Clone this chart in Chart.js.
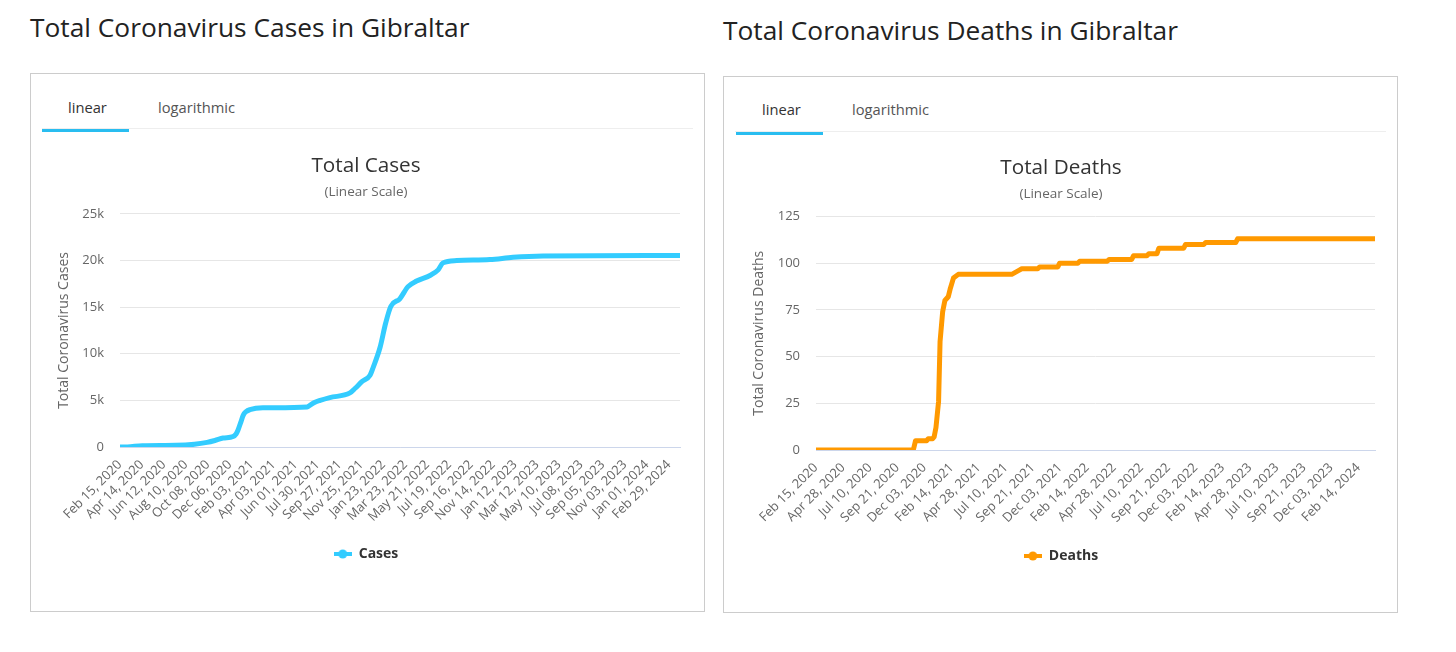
<!DOCTYPE html>
<html>
<head>
<meta charset="utf-8">
<script src="https://cdn.jsdelivr.net/npm/chart.js@4.4.1/dist/chart.umd.min.js"></script>
<style>
  html, body { margin: 0; padding: 0; background: #fff; }
  body { width: 1456px; height: 652px; position: relative; overflow: hidden; font-family: "Open Sans", sans-serif; }
  .ptitle { position: absolute; margin: 0; font-weight: 400; font-size: 26.3px; line-height: 32px; color: #222; white-space: nowrap; }
  .box { position: absolute; border: 1px solid #ccc; box-sizing: border-box; background: #fff; }
  .tab { position: absolute; font-size: 14.7px; line-height: 20px; color: #333; }
  .tab.off { color: #555; }
  .divider { position: absolute; left: 11px; right: 11px; top: 54px; height: 1px; background: #eee; }
  .underline { position: absolute; left: 11px; top: 55px; width: 87px; height: 3px; background: #29bdf0; }
  .cv { position: absolute; }
</style>
</head>
<body>
  <h2 class="ptitle" style="left:30px; top:11px;">Total Coronavirus Cases in Gibraltar</h2>
  <div class="box" style="left:30px; top:73px; width:675px; height:539px;">
    <div class="tab" style="left:37px; top:23px;">linear</div>
    <div class="tab off" style="left:127px; top:23px;">logarithmic</div>
    <div class="divider"></div>
    <div class="underline"></div>
  </div>
  <canvas id="casesChart" class="cv" width="651" height="470" style="left:41px; top:140px;"></canvas>

  <h2 class="ptitle" style="left:723px; top:14px;">Total Coronavirus Deaths in Gibraltar</h2>
  <div class="box" style="left:723px; top:76px; width:675px; height:537px;">
    <div class="tab" style="left:38px; top:22px;">linear</div>
    <div class="tab off" style="left:128px; top:22px;">logarithmic</div>
    <div class="divider"></div>
    <div class="underline" style="left:12px;"></div>
  </div>
  <canvas id="deathsChart" class="cv" width="651" height="470" style="left:735px; top:142px;"></canvas>

<script>
// ---------- data ----------
const caseTickLabels = ["Feb 15, 2020","Apr 14, 2020","Jun 12, 2020","Aug 10, 2020","Oct 08, 2020","Dec 06, 2020",
  "Feb 03, 2021","Apr 03, 2021","Jun 01, 2021","Jul 30, 2021","Sep 27, 2021","Nov 25, 2021",
  "Jan 23, 2022","Mar 23, 2022","May 21, 2022","Jul 19, 2022","Sep 16, 2022","Nov 14, 2022",
  "Jan 12, 2023","Mar 12, 2023","May 10, 2023","Jul 08, 2023","Sep 05, 2023","Nov 03, 2023",
  "Jan 01, 2024","Feb 29, 2024"];
const caseTickStepDays = 59;

const deathTickLabels = ["Feb 15, 2020","Apr 28, 2020","Jul 10, 2020","Sep 21, 2020","Dec 03, 2020",
  "Feb 14, 2021","Apr 28, 2021","Jul 10, 2021","Sep 21, 2021","Dec 03, 2021",
  "Feb 14, 2022","Apr 28, 2022","Jul 10, 2022","Sep 21, 2022","Dec 03, 2022",
  "Feb 14, 2023","Apr 28, 2023","Jul 10, 2023","Sep 21, 2023","Dec 03, 2023",
  "Feb 14, 2024"];
const deathTickStepDays = 73;

const lastDay = 1505; // days after Feb 15, 2020

// days since Feb 15, 2020 -> total cases
const caseDays   = [0, 20, 60, 150, 200, 234, 255, 277, 304, 312, 317, 325, 331, 339, 349, 384, 503, 511, 524, 538, 564, 618, 632, 650, 672, 681, 699, 714, 728, 752, 774, 797, 833, 855, 868, 905, 994, 1056, 1137, 1505];
const caseValues = [0, 10, 140, 180, 300, 500, 700, 960, 1130, 1400, 1800, 2700, 3400, 3800, 4000, 4200, 4300, 4500, 4800, 5000, 5300, 5800, 6300, 7000, 7700, 8600, 10700, 13300, 15100, 15900, 17200, 17800, 18400, 19000, 19750, 20000, 20100, 20350, 20500, 20550];

// days since Feb 15, 2020 -> total deaths
const deathDays   = [0, 262, 268, 298, 302, 314, 318, 323, 330, 334, 341, 347, 356, 361, 370, 383, 527, 545, 554, 597, 602, 651, 656, 705, 710, 784, 789, 850, 855, 891, 896, 918, 923, 990, 995, 1044, 1049, 1130, 1135, 1505];
const deathValues = [0, 0, 5, 5, 6, 6, 7, 12, 26, 58, 74, 80, 82, 86, 92, 94, 94, 96, 97, 97, 98, 98, 100, 100, 101, 101, 102, 102, 104, 104, 105, 105, 108, 108, 110, 110, 111, 111, 113, 113];

const caseYTicks = { max: 25000, step: 5000 };
const deathYTicks = { max: 125, step: 25 };

// ---------- rendering ----------
Chart.defaults.font.family = "'Open Sans', sans-serif";
Chart.defaults.animation = false;

function legendIcon(color) {
  const c = document.createElement('canvas');
  c.width = 18; c.height = 10;
  const g = c.getContext('2d');
  g.strokeStyle = color; g.lineWidth = 4; g.lineCap = 'butt';
  g.beginPath(); g.moveTo(0, 5); g.lineTo(18, 5); g.stroke();
  g.fillStyle = color;
  g.beginPath(); g.arc(9, 5, 4.5, 0, Math.PI * 2); g.fill();
  return c;
}

function makeChart(id, o) {
  const pts = o.days.map((d, i) => ({ x: d, y: o.values[i] }));
  new Chart(document.getElementById(id), {
    type: 'line',
    data: {
      datasets: [{
        label: o.label,
        data: pts,
        borderColor: o.color,
        backgroundColor: o.color,
        borderWidth: 5,
        pointRadius: 0,
        borderJoinStyle: 'round',
        borderCapStyle: 'round',
        cubicInterpolationMode: o.smooth ? 'monotone' : 'default',
        tension: 0,
        fill: false
      }]
    },
    options: {
      responsive: false,
      animation: false,
      layout: { padding: { left: o.padLeft, right: o.padRight, top: 0, bottom: o.padBottom } },
      plugins: {
        title: { display: true, text: o.title, color: '#333', font: { size: 20.7, weight: 'normal' }, padding: { top: 14, bottom: 2 } },
        subtitle: { display: true, text: '(Linear Scale)', color: '#666', font: { size: 13.5 }, padding: { top: 3.5, bottom: o.subBottom } },
        legend: {
          position: 'bottom',
          labels: {
            usePointStyle: true,
            pointStyle: legendIcon(o.color),
            pointStyleWidth: 18,
            color: '#333',
            font: { size: 14, weight: 'bold' },
            padding: o.legendPad
          }
        },
        tooltip: { enabled: false }
      },
      scales: {
        x: {
          type: 'linear',
          min: 0,
          max: lastDay,
          afterBuildTicks: (scale) => { scale.ticks = o.tickLabels.map((_, i) => ({ value: i * o.tickStep })); },
          afterFit: (scale) => { scale.height = 75; },
          grid: { display: false, drawTicks: false },
          border: { display: true, color: '#ccd6eb', width: 1 },
          ticks: {
            autoSkip: false,
            minRotation: 45,
            maxRotation: 45,
            padding: 10,
            color: '#666',
            font: { size: 13 },
            callback: (v, i) => o.tickLabels[i]
          }
        },
        y: {
          min: 0,
          max: o.yTicks.max,
          afterFit: (scale) => { scale.width = o.yWidth; },
          grid: { color: '#e6e6e6', drawTicks: false },
          border: { display: false },
          ticks: {
            stepSize: o.yTicks.step,
            padding: 16,
            color: '#666',
            font: { size: 13 },
            callback: o.yFormat
          },
          title: { display: true, text: o.yTitle, color: '#666', font: { size: 14 }, padding: { top: 4, bottom: 4 } }
        }
      }
    }
  });
}

makeChart('casesChart', {
  label: 'Cases', title: 'Total Cases', yTitle: 'Total Coronavirus Cases',
  color: '#33ccff', smooth: true,
  days: caseDays, values: caseValues,
  tickLabels: caseTickLabels, tickStep: caseTickStepDays,
  yTicks: caseYTicks, yFormat: (v) => v === 0 ? '0' : (v / 1000) + 'k',
  padLeft: 11, padRight: 12, yWidth: 68, subBottom: 13.4, legendPad: 25, padBottom: 39
});

makeChart('deathsChart', {
  label: 'Deaths', title: 'Total Deaths', yTitle: 'Total Coronavirus Deaths',
  color: '#ff9900', smooth: false,
  days: deathDays, values: deathValues,
  tickLabels: deathTickLabels, tickStep: deathTickStepDays,
  yTicks: deathYTicks, yFormat: (v) => String(v),
  padLeft: 12, padRight: 11, yWidth: 69, subBottom: 13.9, legendPad: 24, padBottom: 39
});
</script>
</body>
</html>
